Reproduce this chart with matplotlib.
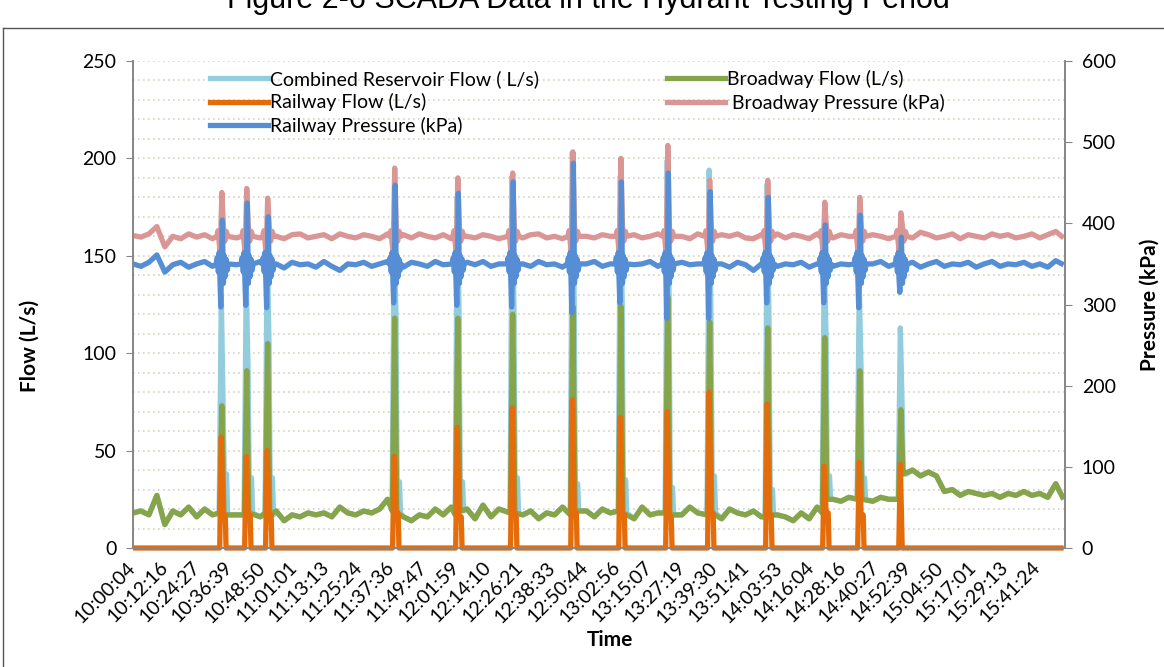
import numpy as np
import matplotlib
matplotlib.use("Agg")
import matplotlib.pyplot as plt
from matplotlib.lines import Line2D

# time in minutes after 10:00:04, baseline samples every 3 min
time_labels = ["10:00:04", "10:12:16", "10:24:27", "10:36:39", "10:48:50", "11:01:01",
               "11:13:13", "11:25:24", "11:37:36", "11:49:47", "12:01:59", "12:14:10",
               "12:26:21", "12:38:33", "12:50:44", "13:02:56", "13:15:07", "13:27:19",
               "13:39:30", "13:51:41", "14:03:53", "14:16:04", "14:28:16", "14:40:27",
               "14:52:39", "15:04:50", "15:17:01", "15:29:13", "15:41:24"]
label_step = 731 / 60.0
t_end = 351.5

green_base = [18, 19, 17, 27, 12, 19, 17, 21, 16, 20,
              17, 18, 19, 17, 18, 19, 16, 18, 19, 14,
              17, 16, 18, 17, 18, 16, 21, 18, 17, 19,
              18, 20, 25, 18, 16, 14, 17, 16, 20, 17,
              21, 18, 20, 15, 22, 16, 20, 22, 18, 17,
              19, 15, 18, 17, 21, 18, 17, 19, 16, 20,
              18, 17, 19, 15, 21, 17, 18, 16, 19, 17,
              21, 18, 19, 17, 15, 20, 18, 17, 19, 16,
              18, 17, 16, 14, 18, 15, 21, 20, 25, 24,
              26, 24, 25, 24, 26, 25, 27, 38, 40, 37,
              39, 37, 29, 30, 27, 29, 28, 27, 28, 26,
              28, 27, 29, 27, 28, 26, 33, 25]
cyan_base = green_base
orange_base = [0] * len(green_base)
pink_base = [385, 383, 387, 396, 371, 384, 381, 387, 383, 386,
             381, 384, 386, 382, 387, 384, 382, 388, 384, 381,
             386, 387, 382, 384, 386, 381, 387, 384, 382, 386,
             384, 381, 387, 384, 386, 382, 387, 384, 382, 386,
             381, 387, 384, 382, 386, 384, 381, 388, 384, 382,
             386, 387, 382, 384, 381, 386, 387, 384, 382, 386,
             384, 381, 387, 386, 382, 384, 387, 382, 386, 384,
             381, 387, 384, 382, 386, 384, 387, 382, 381, 386,
             384, 387, 382, 386, 384, 381, 387, 384, 382, 386,
             384, 387, 382, 386, 384, 381, 387, 384, 382, 389,
             386, 382, 384, 387, 381, 386, 384, 382, 387, 384,
             386, 382, 384, 387, 382, 386, 390, 382]
blue_base = [350, 347, 352, 361, 340, 349, 352, 346, 350, 353,
             347, 350, 352, 349, 346, 350, 353, 347, 350, 345,
             352, 349, 350, 346, 353, 347, 342, 350, 349, 352,
             347, 350, 353, 349, 346, 352, 350, 347, 353, 349,
             350, 345, 352, 349, 353, 347, 350, 346, 352, 350,
             347, 353, 349, 350, 346, 352, 349, 350, 353, 347,
             350, 346, 352, 349, 350, 353, 347, 350, 345, 352,
             349, 350, 353, 347, 350, 346, 352, 349, 342, 350,
             353, 347, 350, 349, 352, 346, 350, 353, 347, 350,
             349, 352, 346, 350, 353, 347, 350, 349, 352, 346,
             350, 353, 347, 350, 349, 352, 346, 350, 353, 347,
             350, 349, 352, 347, 350, 346, 354, 349]

# hydrant tests
event_t = [33.6, 43.0, 50.9, 98.8, 122.6, 143.3, 166.0, 184.1, 201.8, 217.6, 239.5, 261.0, 274.2, 289.7]
cyan_peak = [130, 138, 155, 165, 180, 191, 203, 191, 199, 194, 187, 150, 135, 113]
cyan_tail = [38, 36, 36, 34, 34, 36, 33, 35, 31, 37, 30, 37, 36, 38]
green_peak = [73, 91, 105, 118, 118, 120, 124, 124, 129, 116, 113, 108, 91, 71]
green_pre = [18, 17, 18, 19, 17, 18, 17, 19, 18, 17, 16, 18, 25, 25]
green_post = [17, 18, 17, 18, 19, 18, 19, 18, 17, 18, 17, 25, 25, 38]
orange_peak = [57, 47, 50, 47, 62, 72, 76, 67, 70, 80, 74, 42, 44, 43]
orange_tail = [17, 17, 17, 18, 16, 17, 18, 17, 16, 18, 17, 18, 17, 0]
pink_peak = [438, 443, 431, 468, 456, 462, 488, 480, 496, 453, 453, 426, 432, 413]
blue_peak = [404, 425, 408, 447, 437, 451, 474, 451, 462, 439, 432, 398, 410, 383]
blue_dip = [297, 299, 296, 302, 299, 297, 290, 302, 283, 283, 302, 302, 296, 315]


def build(base_v, pts):
    base_t = 3.0 * np.arange(len(base_v))
    keep = np.ones(len(base_t), bool)
    for tc in event_t:
        keep &= ~((base_t > tc - 2.5) & (base_t < tc + 2.5))
    t = list(base_t[keep]) + [p[0] for p in pts]
    v = list(np.array(base_v, float)[keep]) + [p[1] for p in pts]
    o = np.argsort(t, kind="stable")
    return np.array(t)[o], np.array(v)[o]


cyan_pts, green_pts, orange_pts, pink_pts, blue_pts = [], [], [], [], []
for i, tc in enumerate(event_t):
    cyan_pts += [(tc - 1.1, green_pre[i]), (tc - 0.3, cyan_peak[i]), (tc + 0.4, green_peak[i]),
                 (tc + 0.8, cyan_tail[i]), (tc + 1.7, cyan_tail[i]), (tc + 2.1, green_post[i])]
    green_pts += [(tc - 1.0, green_pre[i]), (tc - 0.1, green_peak[i]), (tc + 0.7, green_post[i])]
    orange_pts += [(tc - 0.9, 0), (tc - 0.3, orange_peak[i]), (tc + 0.4, orange_tail[i]),
                   (tc + 1.2, orange_tail[i]), (tc + 1.5, 0)]
    pink_pts += [(tc - 2.0, 384), (tc - 1.5, 391), (tc - 1.1, 376), (tc - 0.7, 362),
                 (tc - 0.1, pink_peak[i]), (tc + 0.5, 396), (tc + 1.0, 378), (tc + 1.6, 390),
                 (tc + 2.2, 384)]
    blue_pts += [(tc - 2.2, 350), (tc - 1.8, 358), (tc - 1.4, 340), (tc - 1.1, 364),
                 (tc - 0.8, 332), (tc - 0.5, blue_dip[i]), (tc - 0.2, 345), (tc + 0.1, blue_peak[i]),
                 (tc + 0.5, 326), (tc + 0.8, 360), (tc + 1.1, 334), (tc + 1.5, 356),
                 (tc + 1.9, 342), (tc + 2.3, 350)]

c_cyan, c_green, c_orange = "#93CDDD", "#86A44A", "#E46C0A"
c_pink, c_blue = "#DA9694", "#558ED5"
lw = 3.8
fs = 14

plt.rcParams["font.family"] = ["Lato", "DejaVu Sans"]
W, H = 1164, 667
fig = plt.figure(figsize=(W / 100, H / 100), dpi=100)
ax = fig.add_axes([133 / W, 1 - 548 / H, (1065 - 133) / W, (548 - 61) / H])
ax2 = ax.twinx()

kw = dict(lw=lw, clip_on=False, solid_capstyle="butt", solid_joinstyle="round")
ax.plot(*build(cyan_base, cyan_pts), color=c_cyan, **kw)
ax.plot(*build(green_base, green_pts), color=c_green, **kw)
ax.plot(*build(orange_base, orange_pts), color=c_orange, **kw)
ax2.plot(*build(pink_base, pink_pts), color=c_pink, **kw)
ax2.plot(*build(blue_base, blue_pts), color=c_blue, **kw)

ax.set_xlim(0, t_end)
ax.set_ylim(0, 250)
ax2.set_ylim(0, 600)
ax.set_yticks(range(0, 251, 50))
ax.set_yticks(range(0, 251, 10), minor=True)
ax2.set_yticks(range(0, 601, 100))
ax.grid(axis="y", which="both", color="#D9D4BF", linestyle=(0, (1, 2)), lw=1.2)
ax.set_axisbelow(True)
ax.set_xticks(np.arange(len(time_labels)) * label_step)
ax.set_xticklabels(time_labels, rotation=45, ha="right", va="center", rotation_mode="anchor")
ax.tick_params(axis="x", length=0, pad=12, labelsize=fs)
ax.tick_params(axis="y", which="major", length=5, color="#868686", labelsize=fs, pad=7)
ax.tick_params(axis="y", which="minor", length=0)
ax2.tick_params(axis="y", length=5, color="#868686", labelsize=fs, pad=7)
for a in (ax, ax2):
    a.spines["top"].set_visible(False)
    for s in ("left", "right", "bottom"):
        a.spines[s].set_color("#868686")
        a.spines[s].set_linewidth(1.2)

fig.text(30 / W, 1 - 346 / H, "Flow (L/s)", rotation=90, ha="center", va="center",
         fontsize=15, fontweight="bold")
fig.text(1150 / W, 1 - 305 / H, "Pressure (kPa)", rotation=90, ha="center", va="center",
         fontsize=15, fontweight="bold")
fig.text(610 / W, 1 - 640 / H, "Time", ha="center", va="center", fontsize=15, fontweight="bold")
fig.text(588 / W, 1 - 8 / H, "Figure 2-6 SCADA Data in the Hydrant Testing Period",
         ha="center", va="baseline", fontsize=22, family="Liberation Sans")

# chart border
fig.add_artist(Line2D([3 / W, 3 / W], [0, 1 - 28 / H], color="#555555", lw=1))
fig.add_artist(Line2D([3 / W, 1], [1 - 28 / H, 1 - 28 / H], color="#555555", lw=1))

h = lambda c: Line2D([], [], color=c, lw=lw)
leg_kw = dict(loc="upper left", frameon=False, fontsize=fs, handlelength=3.0, handletextpad=0.1,
              labelspacing=0.28, borderaxespad=0, borderpad=0)
fig.legend([h(c_cyan), h(c_orange), h(c_blue)],
           ["Combined Reservoir Flow ( L/s)", "Railway Flow (L/s)", "Railway Pressure (kPa)"],
           bbox_to_anchor=(210 / W, 1 - 70 / H), **leg_kw)
fig.legend([h(c_green), h(c_pink)],
           ["Broadway Flow (L/s)", " Broadway Pressure (kPa)"],
           bbox_to_anchor=(667 / W, 1 - 70 / H), **leg_kw)

fig.savefig("out.png", dpi=100)
